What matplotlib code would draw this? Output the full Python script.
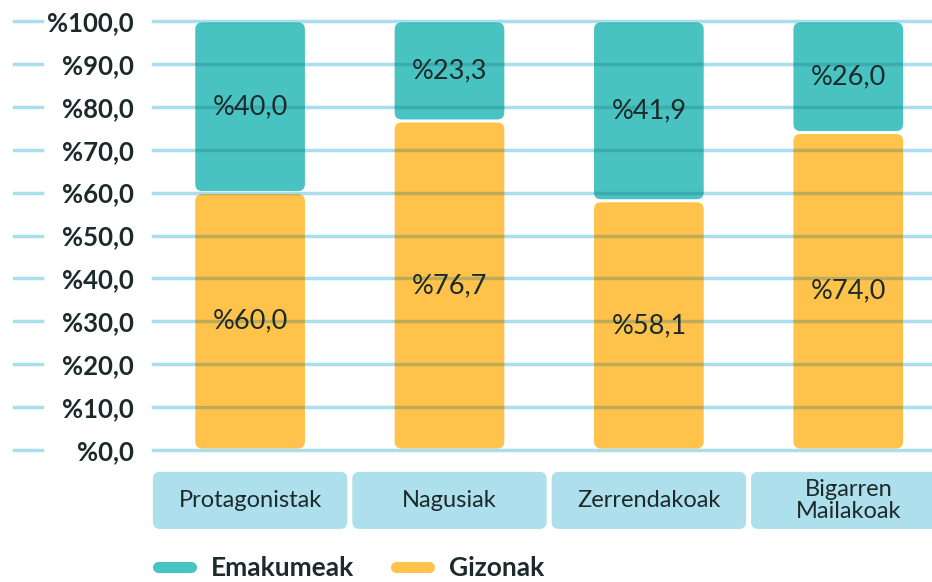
import numpy as np
import matplotlib
matplotlib.use('Agg')
from matplotlib import pyplot as plt
from matplotlib.patches import FancyBboxPatch
from matplotlib.lines import Line2D

categories = ['Protagonistak', 'Nagusiak', 'Zerrendakoak', 'Bigarren\nMailakoak']
gizonak = [60.0, 76.7, 58.1, 74.0]
emakumeak = [40.0, 23.3, 41.9, 26.0]
series_names = ['Emakumeak', 'Gizonak']
yticks = list(range(0, 101, 10))

TEAL = '#48C3C1'
YELLOW = '#FFC24A'
GRID = '#A9DFEC'
BOX = '#AEDFEC'
TXT = '#1C2A2A'

plt.rcParams['font.family'] = ['Lato', 'DejaVu Sans']

fig = plt.figure(figsize=(9.32, 5.82), dpi=100)
ax = fig.add_axes([153 / 932, 132 / 582, 779 / 932, 429 / 582])
x = np.arange(len(categories))
ax.set_xlim(-0.487, 3.42)
ax.set_ylim(0, 100)

bars_g = ax.bar(x, gizonak, width=0.55, color=YELLOW)
bars_e = ax.bar(x, emakumeak, bottom=gizonak, width=0.55, color=TEAL)

# px per data unit, used for rounding corners
xpx = 779 / (3.42 + 0.487)
ypx = 429 / 100
aspect = xpx / ypx
rr = 7 / xpx

boxes = []
for bar in list(bars_g) + list(bars_e):
    x0, y0 = bar.get_x(), bar.get_y()
    w, h = bar.get_width(), bar.get_height()
    fc = bar.get_facecolor()
    bar.set_visible(False)
    p = FancyBboxPatch((x0, y0 + 0.35), w, h - 0.7,
                       boxstyle=f'round,pad=0,rounding_size={rr}',
                       mutation_aspect=aspect, fc=fc, ec='none',
                       zorder=2, clip_on=False)
    ax.add_patch(p)
    boxes.append(p)

# grid lines under bars, darker overlay inside bars
for t in yticks:
    ax.axhline(t, color=GRID, lw=2.5, zorder=1, clip_on=False)
    ax.plot([-0.178, -0.142], [t, t], color=GRID, lw=2.5,
            transform=ax.get_yaxis_transform(), clip_on=False)
    for p in boxes:
        ln = ax.axhline(t, color='#1A6F80', lw=2.5, alpha=0.28, zorder=3)
        ln.set_clip_path(p)

# value labels
for i in range(len(categories)):
    ax.text(x[i], gizonak[i] / 2, f'%{gizonak[i]:.1f}'.replace('.', ','),
            ha='center', va='center', fontsize=19.5, color=TXT, zorder=4)
    ax.text(x[i], gizonak[i] + emakumeak[i] / 2, f'%{emakumeak[i]:.1f}'.replace('.', ','),
            ha='center', va='center', fontsize=19.5, color=TXT, zorder=4)

ax.set_yticks(yticks)
ax.set_yticklabels([f'%{t:.1f}'.replace('.', ',') for t in yticks],
                   fontsize=18.5, color=TXT, fontweight='bold')
ax.tick_params(axis='y', length=0, pad=14)
ax.set_xticks([])
for s in ax.spines.values():
    s.set_visible(False)

# category label boxes
trans = ax.get_xaxis_transform()
for i, c in enumerate(categories):
    bw = 0.975
    p = FancyBboxPatch((x[i] - bw / 2, -0.184), bw, 0.133,
                       boxstyle='round,pad=0,rounding_size=0.035',
                       mutation_aspect=xpx / 429,
                       fc=BOX, ec='none', transform=trans, clip_on=False)
    ax.add_patch(p)
    ax.text(x[i], -0.117, c, ha='center', va='center', fontsize=17,
            color=TXT, transform=trans, linespacing=1.05)

handles = [Line2D([], [], color=TEAL, lw=8, solid_capstyle='round'),
           Line2D([], [], color=YELLOW, lw=8, solid_capstyle='round')]
fig.legend(handles, series_names, loc='center left', bbox_to_anchor=(158 / 932, 1 - 568 / 582),
           ncol=2, frameon=False, handlelength=1.25, handletextpad=0.75, columnspacing=1.6,
           prop={'size': 19, 'weight': 'bold'}, labelcolor=TXT, borderaxespad=0, borderpad=0)

fig.savefig('out.png', dpi=100)
